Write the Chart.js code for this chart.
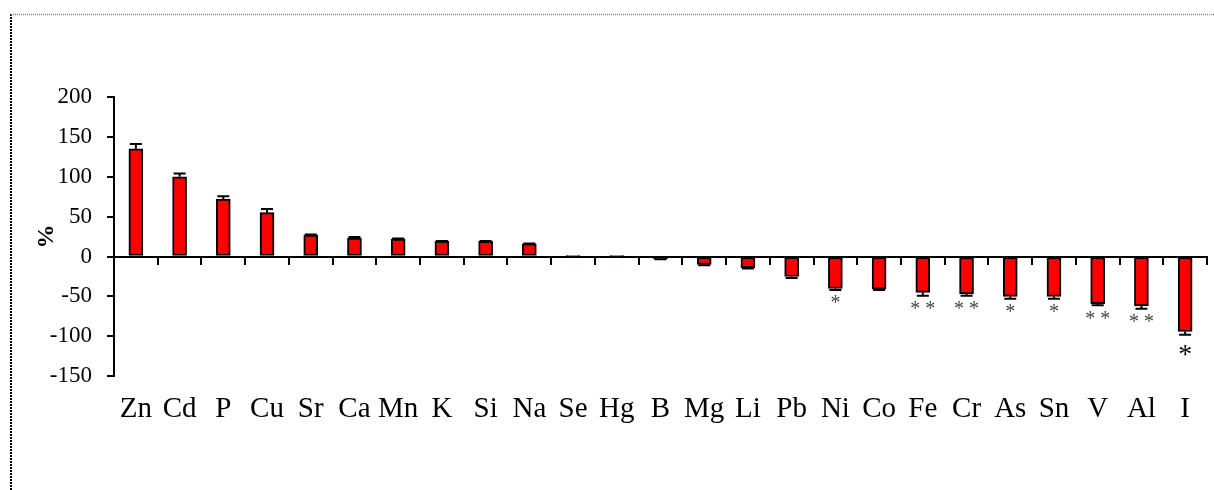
<!DOCTYPE html>
<html><head><meta charset="utf-8">
<script src="https://cdn.jsdelivr.net/npm/chart.js@4.4.1/dist/chart.umd.min.js"></script>
<style>html,body{margin:0;padding:0;background:#fff;}canvas{display:block;}</style>
</head><body>
<canvas id="c" width="1214" height="490"></canvas>
<script>
const categories = ['Zn','Cd','P','Cu','Sr','Ca','Mn','K','Si','Na','Se','Hg','B','Mg','Li','Pb','Ni','Co','Fe','Cr','As','Sn','V','Al','I'];
const values = [135,100,72,55,27,23,22,19,19,16,0.4,0.4,-3,-10,-14,-25,-40,-41,-45,-47,-50,-50,-59,-62,-94];
const errors = [6,4,3.5,4.5,0.5,1.5,0.5,0.5,0.5,0.5,0,0,0.5,1,1,2,2,1,4,2,3,3,2,3.5,4];
const stars = ['','','','','','','','','','','','','','','','','*','','* *','* *','*','*','* *','* *','*'];
const yTicks = [-150,-100,-50,0,50,100,150,200];
const bigStarIndex = categories.indexOf('I');

const frame = {
  id: 'frame',
  beforeDraw(chart) {
    const ctx = chart.ctx;
    ctx.save();
    ctx.fillStyle = '#fff';
    ctx.fillRect(0, 0, chart.width, chart.height);
    ctx.lineWidth = 2;
    ctx.strokeStyle = '#000';
    ctx.setLineDash([2, 1]);
    ctx.beginPath(); ctx.moveTo(11, 14); ctx.lineTo(11, chart.height); ctx.stroke();
    ctx.strokeStyle = '#888';
    ctx.lineWidth = 1.5;
    ctx.setLineDash([1, 1]);
    ctx.beginPath(); ctx.moveTo(11, 14.5); ctx.lineTo(chart.width, 14.5); ctx.stroke();
    ctx.restore();
  }
};

const errorBars = {
  id: 'errorBars',
  afterDatasetsDraw(chart) {
    const xs = chart.scales.x, ys = chart.scales.y, ctx = chart.ctx;
    ctx.save();
    ctx.strokeStyle = '#000';
    ctx.lineWidth = 2;
    values.forEach((v, i) => {
      const e = errors[i];
      if (!e) return;
      const px = xs.getPixelForValue(i);
      const s = v >= 0 ? 1 : -1;
      const y0 = ys.getPixelForValue(v);
      const y1 = ys.getPixelForValue(v + s * e);
      ctx.beginPath();
      ctx.moveTo(px, y0); ctx.lineTo(px, y1);
      ctx.moveTo(px - 6, y1); ctx.lineTo(px + 6, y1);
      ctx.stroke();
    });
    ctx.textAlign = 'center';
    ctx.textBaseline = 'alphabetic';
    stars.forEach((st, i) => {
      if (!st) return;
      const px = xs.getPixelForValue(i);
      const v = values[i], e = errors[i];
      const yEnd = ys.getPixelForValue(v - e);
      const big = i === bigStarIndex;
      const size = big ? 28 : 20;
      ctx.font = size + 'px "Liberation Serif"';
      ctx.fillStyle = big ? '#000' : '#444';
      const centerY = yEnd + (big ? 15 : 10);
      ctx.fillText(st, px, centerY + 0.47 * size);
    });
    ctx.restore();
  }
};

new Chart(document.getElementById('c'), {
  type: 'bar',
  data: {
    labels: categories,
    datasets: [{
      data: values,
      backgroundColor: '#ff0000',
      borderColor: '#000',
      borderWidth: 2,
      borderSkipped: false,
      barThickness: 14
    }]
  },
  options: {
    responsive: false,
    animation: false,
    devicePixelRatio: 1,
    layout: { padding: { left: 0, right: 7, top: 97, bottom: 47 } },
    plugins: { legend: { display: false }, tooltip: { enabled: false } },
    scales: {
      x: {
        type: 'category', position: 'bottom', offset: true,
        grid: { display: false, drawTicks: false },
        border: { display: false },
        ticks: { autoSkip: false, maxRotation: 0, minRotation: 0, padding: 16, color: '#000',
                 font: { family: 'Liberation Serif', size: 29 } }
      },
      x2: {
        type: 'category', labels: categories, position: { y: 0 }, offset: true,
        grid: { offset: true, drawOnChartArea: false, drawTicks: true, tickLength: 7, color: '#000', lineWidth: 2 },
        border: { display: true, color: '#000', width: 2 },
        ticks: { display: false }
      },
      y: {
        type: 'linear', min: -150, max: 200,
        afterBuildTicks: s => { s.ticks = yTicks.map(v => ({ value: v })); },
        ticks: { padding: 15, color: '#000', font: { family: 'Liberation Serif', size: 23 } },
        grid: { drawOnChartArea: false, drawTicks: true, tickLength: 7, color: '#000', lineWidth: 2 },
        border: { display: true, color: '#000', width: 2 },
        title: { display: true, text: '%', color: '#000',
                 font: { family: 'Liberation Serif', size: 24, weight: 'bold' },
                 padding: { top: 32, bottom: 0 } },
        afterFit: s => { s.width = 114; }
      }
    }
  },
  plugins: [frame, errorBars]
});
</script>
</body></html>
